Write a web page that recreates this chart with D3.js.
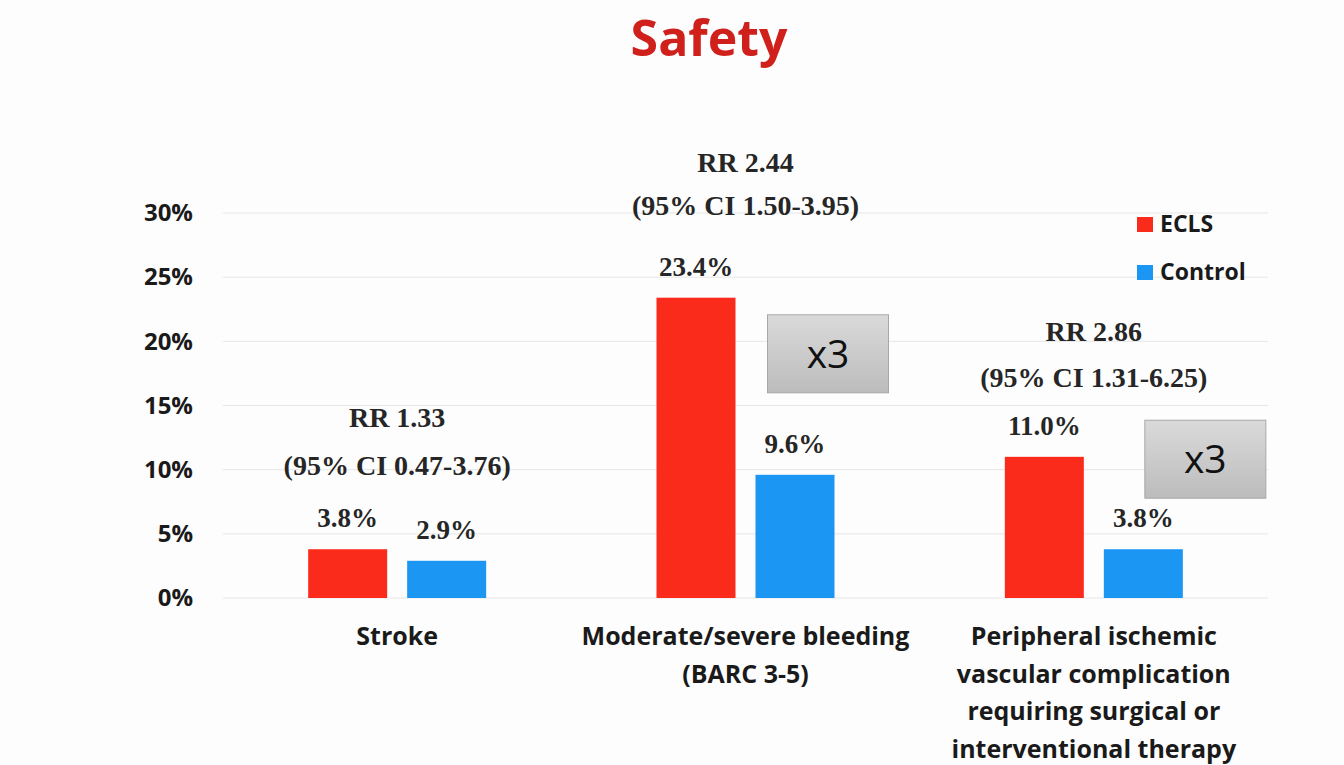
<!DOCTYPE html>
<html>
<head>
<meta charset="utf-8">
<script src="https://cdn.jsdelivr.net/npm/d3@7"></script>
<style>
  html, body { margin: 0; padding: 0; background: #fdfdfd; }
  svg { display: block; }
</style>
</head>
<body>
<svg id="chart" width="1344" height="765"></svg>
<script>
// Safety outcomes, ECLS vs control
const categories = ["Stroke", "Moderate/severe bleeding (BARC 3-5)", "Peripheral ischemic vascular complication requiring surgical or interventional therapy"];
const categoryLines = [
  ["Stroke"],
  ["Moderate/severe bleeding", "(BARC 3-5)"],
  ["Peripheral ischemic", "vascular complication", "requiring surgical or", "interventional therapy"]
];
const seriesNames = ["ECLS", "Control"];
const eclsValues = [3.8, 23.4, 11.0];
const controlValues = [2.9, 9.6, 3.8];
const rrLabels = ["RR 1.33", "RR 2.44", "RR 2.86"];
const ciLabels = ["(95% CI 0.47-3.76)", "(95% CI 1.50-3.95)", "(95% CI 1.31-6.25)"];
const multiplierLabels = [null, "x3", "x3"];
const yTicks = [0, 5, 10, 15, 20, 25, 30];

const colors = { ECLS: "#fb2b1c", Control: "#1b96f3" };

const svg = d3.select("#chart");

const plot = { left: 223, right: 1268, top: 213, bottom: 598 };
const groupWidth = 178;

const x = d3.scaleBand().domain(categories).range([plot.left, plot.right]);
const xSeries = d3.scaleBand().domain(seriesNames).range([0, groupWidth]).paddingInner(0.202);
const y = d3.scaleLinear().domain([0, 30]).range([plot.bottom, plot.top]);

const sans = "'Open Sans', sans-serif";
const serif = "'Liberation Serif', 'Times New Roman', serif";

// Title
svg.append("text")
  .attr("x", 709).attr("y", 56)
  .attr("text-anchor", "middle")
  .attr("font-family", sans)
  .attr("font-weight", 700)
  .attr("font-size", 50)
  .attr("fill", "#d0201c")
  .text("Safety");

// Gridlines
svg.append("g")
  .selectAll("line")
  .data(yTicks)
  .join("line")
  .attr("x1", plot.left).attr("x2", plot.right)
  .attr("y1", d => y(d)).attr("y2", d => y(d))
  .attr("stroke", "#e6e6e6").attr("stroke-width", 1);

// Y axis labels
const yAxis = d3.axisLeft(y).tickValues(yTicks).tickFormat(d => d + "%").tickSize(0).tickPadding(0);
const yG = svg.append("g").attr("transform", "translate(193,0)").call(yAxis);
yG.select(".domain").remove();
yG.selectAll("text")
  .attr("font-family", sans)
  .attr("font-weight", 700)
  .attr("font-size", 24)
  .attr("fill", "#1a1a1a");

// Bars
const rows = categories.map((c, i) => ({
  cat: c, i,
  vals: [{ s: "ECLS", v: eclsValues[i] }, { s: "Control", v: controlValues[i] }]
}));

const groups = svg.append("g").selectAll("g")
  .data(rows)
  .join("g")
  .attr("transform", d => `translate(${x(d.cat) + x.bandwidth() / 2 - groupWidth / 2},0)`);

groups.selectAll("rect")
  .data(d => d.vals)
  .join("rect")
  .attr("x", d => xSeries(d.s))
  .attr("width", xSeries.bandwidth())
  .attr("y", d => y(d.v))
  .attr("height", d => y(0) - y(d.v))
  .attr("fill", d => colors[d.s]);

// Value labels
groups.selectAll("text.val")
  .data(d => d.vals)
  .join("text")
  .attr("class", "val")
  .attr("x", d => xSeries(d.s) + xSeries.bandwidth() / 2)
  .attr("y", d => y(d.v) - 22)
  .attr("text-anchor", "middle")
  .attr("font-family", serif)
  .attr("font-weight", 700)
  .attr("font-size", 27)
  .attr("fill", "#262626")
  .text(d => d.v.toFixed(1) + "%");

// Relative risk annotations, offset above the taller bar of each group
const rrOffset = [[-122, -74], [-126, -83], [-116, -70]];
groups.each(function (d, i) {
  const g = d3.select(this);
  const top = y(Math.max(eclsValues[i], controlValues[i]));
  [rrLabels[i], ciLabels[i]].forEach((t, k) => {
    g.append("text")
      .attr("x", groupWidth / 2).attr("y", top + rrOffset[i][k])
      .attr("text-anchor", "middle")
      .attr("font-family", serif).attr("font-weight", 700).attr("font-size", 28)
      .attr("fill", "#262626")
      .text(t);
  });
});

// "x3" callout boxes, positioned beside the control bar
const defs = svg.append("defs");
const grad = defs.append("linearGradient").attr("id", "boxGrad").attr("x1", 0).attr("y1", 0).attr("x2", 0).attr("y2", 1);
grad.append("stop").attr("offset", "0%").attr("stop-color", "#dadada");
grad.append("stop").attr("offset", "100%").attr("stop-color", "#bcbcbc");

const boxW = 121, boxH = 78;
const boxOffset = [null, { dx: 12, dy: -160 }, { dx: 41, dy: -129 }];
groups.filter((d, i) => multiplierLabels[i])
  .each(function (d) {
    const i = d.i;
    const g = d3.select(this);
    const bx = xSeries("Control") + boxOffset[i].dx;
    const by = y(controlValues[i]) + boxOffset[i].dy;
    g.append("rect")
      .attr("x", bx).attr("y", by)
      .attr("width", boxW).attr("height", boxH)
      .attr("fill", "url(#boxGrad)")
      .attr("stroke", "#a8a8a8").attr("stroke-width", 1);
    g.append("text")
      .attr("x", bx + boxW / 2).attr("y", by + boxH / 2)
      .attr("dy", "0.36em")
      .attr("text-anchor", "middle")
      .attr("font-family", sans)
      .attr("font-size", 39)
      .attr("fill", "#111")
      .text(multiplierLabels[i]);
  });

// Category labels
const catG = svg.append("g").selectAll("text")
  .data(rows)
  .join("text")
  .attr("x", d => x(d.cat) + x.bandwidth() / 2)
  .attr("y", 645)
  .attr("text-anchor", "middle")
  .attr("font-family", sans)
  .attr("font-weight", 700)
  .attr("font-size", 25)
  .attr("fill", "#1a1a1a");
catG.selectAll("tspan")
  .data(d => categoryLines[d.i].map(t => ({ t, x: x(d.cat) + x.bandwidth() / 2 })))
  .join("tspan")
  .attr("x", d => d.x)
  .attr("dy", (d, j) => j === 0 ? 0 : 37.5)
  .text(d => d.t);

// Legend
const legend = svg.append("g").selectAll("g")
  .data(seriesNames)
  .join("g")
  .attr("transform", (d, i) => `translate(1137,${217 + i * 48})`);
legend.append("rect").attr("width", 16).attr("height", 15).attr("fill", d => colors[d]);
legend.append("text")
  .attr("x", 23).attr("y", 15)
  .attr("font-family", sans)
  .attr("font-weight", 700)
  .attr("font-size", 23)
  .attr("fill", "#1a1a1a")
  .text(d => d);
</script>
</body>
</html>
